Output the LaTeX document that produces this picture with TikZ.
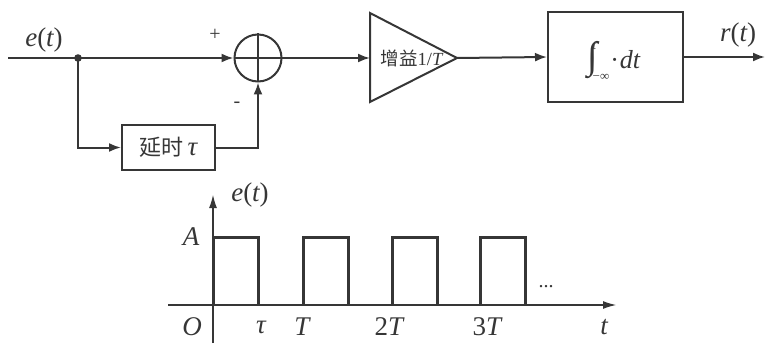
\documentclass[tikz,border=0pt]{standalone}
\usepackage{fontspec}
\setmainfont{Liberation Serif}
\newfontfamily\cjk{Noto Sans CJK SC}
\usetikzlibrary{arrows.meta,shapes.geometric}
\definecolor{ink}{HTML}{363636}
\tikzset{
  sig/.style={draw=ink, line width=2pt},
  arr/.style={sig, -{Latex[length=12pt,width=9pt]}},
  blk/.style={draw=ink, line width=2pt, rectangle, inner sep=0pt},
  lbl/.style={text=ink, font=\fontsize{27}{30}\selectfont\itshape, inner sep=0pt},
  pulse/.style={draw=ink, line width=3pt},
  axis/.style={draw=ink, line width=1.1pt, -{Latex[length=13pt,width=8pt]}},
}
\newcommand{\smallfs}{\fontsize{13}{13}\selectfont}
\begin{document}
\begin{tikzpicture}[x=1pt,y=-1pt]
\useasboundingbox (0,0) rectangle (766,345);
% --- block diagram ---
\coordinate (in) at (8,58);
\coordinate (jn) at (78,58);
\node[circle, draw=ink, line width=2pt, minimum size=47pt, inner sep=0pt] (sum) at (258,58) {};
\draw[sig] (sum.north) -- (sum.south);
\draw[sig] (sum.west) -- (sum.east);
\node[blk, minimum width=93pt, minimum height=45pt, font=\fontsize{22}{24}\selectfont, text=ink] (dly) at (168.5,147.5) {{\cjk 延时}\,{\rmfamily\itshape\fontsize{27}{28}\selectfont τ}};
\coordinate (ampin) at (370,58);
\coordinate (ampout) at (457,58);
\draw[sig, line join=miter] (370,13) -- (ampout) -- (370,102) -- cycle;
\node[text=ink, font=\fontsize{18.5}{21}\selectfont, inner sep=0pt] (amp) at (412,58) {{\cjk 增益}1/\textit{T}};
\node[blk, minimum width=135pt, minimum height=90pt] (int) at (615.5,57) {};
\node[text=ink, font=\fontsize{26}{28}\selectfont, inner sep=0pt] (intx) at (614,61) {{\fontsize{38}{38}\selectfont ∫}\kern-5pt\makebox[0pt][l]{\raisebox{19pt}{\smallfs\itshape t}}\raisebox{-12pt}{\smallfs −∞}\kern1pt·\kern1pt\textit{dt}};
\coordinate (out) at (765,57);
\draw[sig] (in) -- (jn);
\fill[ink] (jn) circle (3.8pt);
\draw[arr] (jn) -- (sum.west);
\draw[arr] (jn) |- (dly.west);
\draw[arr] (dly.east) -| (sum.south);
\draw[arr] (sum.east) -- (ampin);
\draw[arr] (ampout) -- (int.west);
\draw[arr] (int.east) -- (out);
\node[lbl] (lin) at (44,40) {e\upshape(\itshape t\upshape)};
\node[lbl] (lout) at (738,35) {r\upshape(\itshape t\upshape)};
\node[text=ink, font=\fontsize{20}{22}\selectfont, inner sep=0pt] (plus) at (215,35) {+};
\node[text=ink, font=\fontsize{20}{22}\selectfont, inner sep=0pt] (minus) at (237,105) {-};
% --- waveform ---
\coordinate (o) at (213,305);
\coordinate (yt) at (213,195);
\coordinate (yb) at (213,343);
\coordinate (xl) at (168,305);
\coordinate (xr) at (616,305);
\draw[axis] (yb) -- (yt);
\draw[axis] (xl) -- (xr);
\foreach \a/\b in {213/258, 303/348, 392/437, 480/525}{
  \draw[pulse, line join=miter] (\a,305) -- (\a,237) -- (\b,237) -- (\b,305);
}
\node[lbl] (ley) at (250,195) {e\upshape(\itshape t\upshape)};
\node[lbl] (lA) at (191,237) {A};
\node[lbl] (lO) at (192,327) {O};
\node[lbl] (ltau) at (261,327) {τ};
\node[lbl] (lT) at (302,327) {T};
\node[lbl] (l2T) at (389,327) {\upshape 2\itshape T};
\node[lbl] (l3T) at (487,327) {\upshape 3\itshape T};
\node[lbl] (lt) at (604,327) {t};
\node[text=ink, font=\fontsize{20}{22}\selectfont, inner sep=0pt] (dots) at (546,287) {...};
\end{tikzpicture}
\end{document}
